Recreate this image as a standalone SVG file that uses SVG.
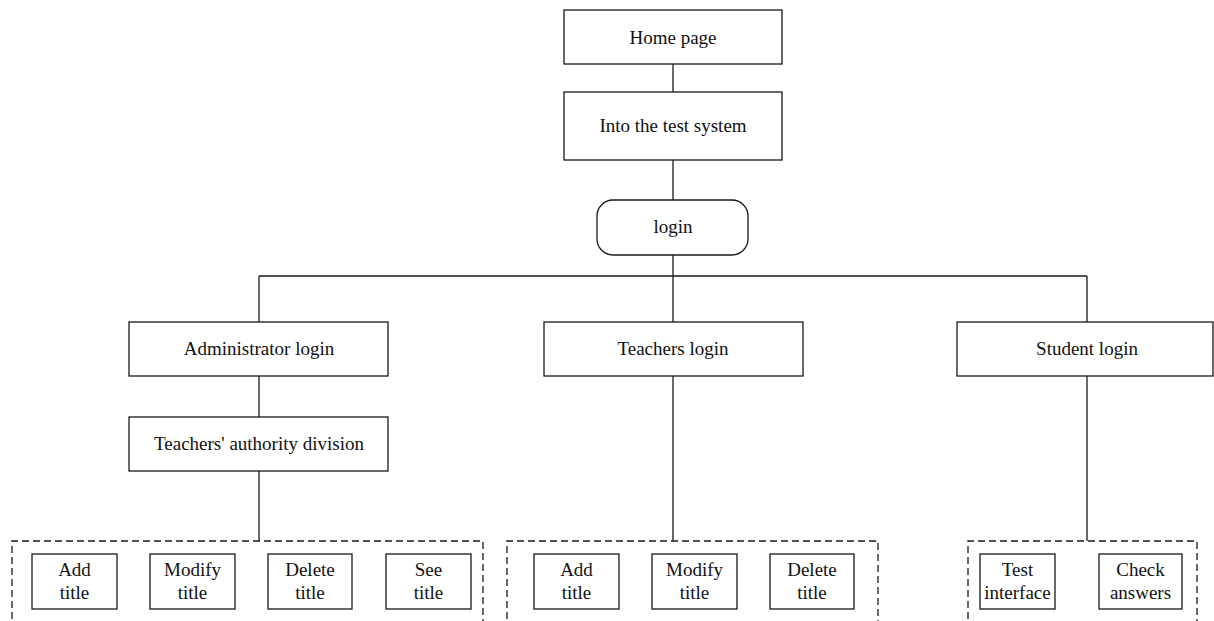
<svg xmlns="http://www.w3.org/2000/svg" width="1214" height="621" viewBox="0 0 1214 621">
<style>
rect{fill:#fff;stroke:#1a1a1a;stroke-width:1.3}
.d{fill:none;stroke:#1a1a1a;stroke-width:1.3;stroke-dasharray:7 4}
text{font-family:"Liberation Serif","Times New Roman",serif;font-size:19px;fill:#111;text-anchor:middle}
.c path{fill:none;stroke:#1a1a1a;stroke-width:1.3}
</style>
<rect width="1214" height="621" style="fill:#fff;stroke:none"/>
<g class="c" id="connectors">
<path d="M673 64V92M673 160V200M673 255V276M259 276H1087M259 276V322M673 276V322M1087 276V322M259 376V417M259 471V541M673 376V541M1087 376V541"/>
</g>
<g id="home"><rect x="564" y="10" width="218" height="54"/><text x="673" y="44">Home page</text></g>
<g id="into"><rect x="564" y="92" width="218" height="68"/><text x="673" y="132">Into the test system</text></g>
<g id="login"><rect x="597" y="200" width="151" height="55" rx="16"/><text x="673" y="233">login</text></g>
<g id="admin"><rect x="129" y="322" width="259" height="54"/><text x="259" y="355">Administrator login</text></g>
<g id="teachers"><rect x="544" y="322" width="259" height="54"/><text x="673" y="355">Teachers login</text></g>
<g id="student"><rect x="957" y="322" width="256" height="54"/><text x="1087" y="355">Student login</text></g>
<g id="authority"><rect x="129" y="417" width="259" height="54"/><text x="259" y="450">Teachers' authority division</text></g>
<g id="admin-group"><path class="d" d="M12 630V541H483V630"/></g>
<g id="teacher-group"><path class="d" d="M507 630V541H878V630"/></g>
<g id="student-group"><path class="d" d="M968 630V541H1197V630"/></g>
<g id="a-add"><rect x="32" y="554" width="85" height="55"/><text x="74.5" y="576">Add</text><text x="74.5" y="599">title</text></g>
<g id="a-modify"><rect x="150" y="554" width="85" height="55"/><text x="192.5" y="576">Modify</text><text x="192.5" y="599">title</text></g>
<g id="a-delete"><rect x="268" y="554" width="84" height="55"/><text x="310" y="576">Delete</text><text x="310" y="599">title</text></g>
<g id="a-see"><rect x="386" y="554" width="85" height="55"/><text x="428.5" y="576">See</text><text x="428.5" y="599">title</text></g>
<g id="t-add"><rect x="534" y="554" width="85" height="55"/><text x="576.5" y="576">Add</text><text x="576.5" y="599">title</text></g>
<g id="t-modify"><rect x="652" y="554" width="85" height="55"/><text x="694.5" y="576">Modify</text><text x="694.5" y="599">title</text></g>
<g id="t-delete"><rect x="770" y="554" width="84" height="55"/><text x="812" y="576">Delete</text><text x="812" y="599">title</text></g>
<g id="s-test"><rect x="980" y="554" width="75" height="55"/><text x="1017.5" y="576">Test</text><text x="1017.5" y="599">interface</text></g>
<g id="s-check"><rect x="1099" y="554" width="83" height="55"/><text x="1140.5" y="576">Check</text><text x="1140.5" y="599">answers</text></g>
</svg>
